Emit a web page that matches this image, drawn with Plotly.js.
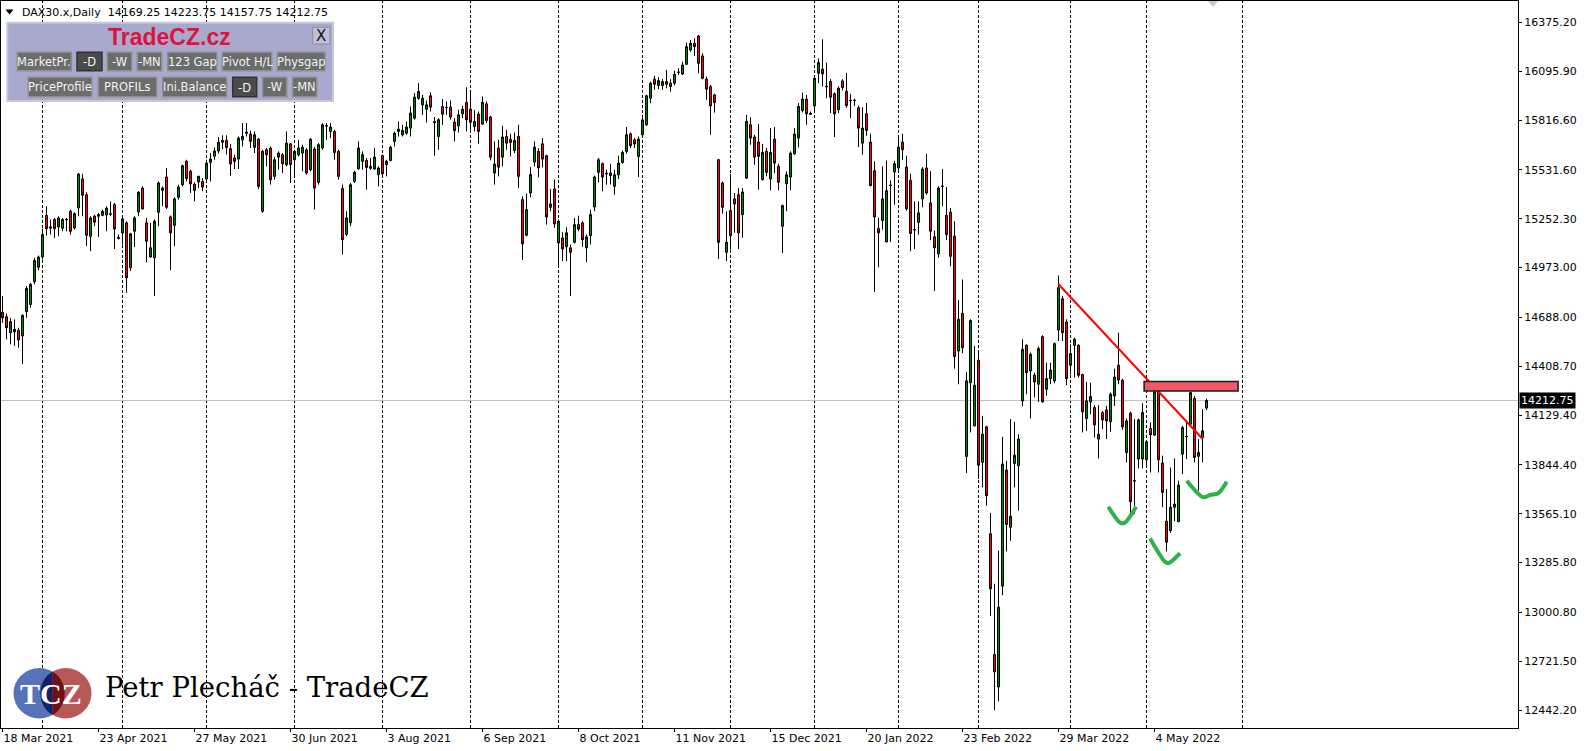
<!DOCTYPE html>
<html><head><meta charset="utf-8">
<script src="https://cdn.plot.ly/plotly-3.0.1.min.js"></script>
<style>html,body{margin:0;padding:0;background:#fff;overflow:hidden}#chart{width:1589px;height:751px}</style>
</head><body><div id="chart"></div>
<script>
const symbolName = "DAX30.x,Daily";
const openP = [14718,14692,14601,14605,14614,14582,14721,14762,14892,14975,
15035,15271,15206,15248,15206,15198,15246,15295,15200,15314,
15480,15390,15152,15267,15267,15272,15274,15281,15333,15145,
15171,15229,14972,15181,15292,15428,15229,15034,15029,15290,
15415,15491,15263,15215,15375,15447,15581,15524,15451,15463,
15466,15480,15575,15610,15640,15690,15700,15653,15600,15594,
15704,15748,15737,15661,15708,15295,15647,15657,15495,15628,
15619,15562,15681,15590,15619,15628,15647,15533,15651,15461,
15657,15785,15752,15752,15638,15425,15162,15229,15466,15539,
15581,15586,15541,15537,15505,15614,15562,15586,15695,15752,
15733,15742,15771,15828,15942,15904,15879,15956,15808,15723,
15895,15890,15891,15805,15784,15853,15917,15879,15780,15851,
15794,15910,15834,15514,15657,15605,15723,15708,15643,15723,
15362,15158,15400,15577,15638,15681,15613,15318,15423,15114,
15143,15092,15086,15118,15219,15229,15086,15156,15320,15518,
15567,15513,15499,15438,15504,15575,15638,15738,15704,15609,
15733,15790,15942,16051,16015,16015,16022,16028,16028,16092,
16081,16136,16218,16256,16298,16184,16051,16009,15961,15590,
15457,15061,15299,15367,15390,15276,15485,15790,15720,15691,
15476,15638,15480,15708,15552,15210,15453,15491,15624,15714,
15872,15937,15856,15898,16085,16108,16011,16037,15967,15876,
16041,15982,15930,15929,15887,15685,15853,15691,15527,15196,
15242,15120,15445,15520,15543,15691,15548,15472,15191,15232,
15366,15543,15343,15149,15052,15439,15272,15290,15153,14496,
14711,13893,14315,14068,14443,13859,14062,13450,12759,12574,
13151,13815,13488,13853,13840,14210,14529,14382,14357,14306,
14578,14277,14338,14325,14616,14795,14662,14414,14528,14529,
14361,14110,14205,14172,13992,14144,14159,14091,14239,14414,
14328,13915,14140,13755,13878,13878,13874,14053,14015,14296,
13855,13522,13469,13602,13520,13906,14008,14077,14224,13893,
14001,14169.25];
const highP = [14810,14711,14686,14677,14629,14705,14867,14886,15029,15042,
15196,15324,15248,15257,15267,15257,15257,15305,15290,15514,
15510,15404,15267,15276,15286,15305,15324,15352,15343,15162,
15257,15238,15172,15267,15410,15438,15257,15229,15248,15466,
15438,15543,15271,15375,15447,15562,15590,15533,15461,15499,
15485,15590,15628,15660,15720,15730,15730,15680,15619,15723,
15800,15800,15756,15752,15714,15647,15657,15666,15605,15638,
15628,15752,15685,15647,15704,15676,15657,15714,15662,15685,
15800,15800,15800,15761,15647,15448,15295,15457,15527,15695,
15638,15600,15600,15657,15552,15619,15590,15670,15752,15809,
15790,15809,15895,15971,16028,15961,15929,15975,15834,15828,
15937,15923,15929,15828,15876,15898,16005,15980,15876,15866,
15952,15923,15841,15695,15704,15784,15761,15739,15746,15790,
15381,15396,15548,15695,15657,15714,15619,15423,15476,15248,
15175,15204,15105,15257,15270,15238,15162,15305,15499,15600,
15575,15533,15567,15533,15613,15643,15777,15746,15714,15723,
15847,15961,16037,16070,16062,16051,16104,16051,16100,16113,
16151,16260,16275,16285,16304,16199,16066,16018,15967,15594,
15466,15295,15510,15400,15428,15428,15847,15834,15733,15796,
15681,15657,15771,15777,15567,15333,15523,15638,15771,15914,
15975,15961,15866,16066,16170,16279,16146,16051,15975,16009,
16051,16087,15967,15940,15900,15891,15914,15739,15581,15257,
15552,15586,15472,15584,15714,15739,15613,15510,15352,15352,
15548,15624,15524,15185,15438,15537,15434,15314,15238,14787,
14905,14376,14677,14525,14487,14125,14068,13570,13164,13354,
14005,13868,14106,14091,14020,14563,14534,14487,14372,14521,
14586,14429,14429,14544,14928,14810,14677,14534,14572,14534,
14366,14319,14315,14186,14186,14153,14182,14258,14395,14601,
14338,14110,14148,14106,14110,14197,13982,14087,14268,14315,
13897,13706,13830,13881,13754,14068,14096,14262,14239,13992,
14163,14223.75];
const lowP = [14657,14563,14534,14525,14515,14420,14686,14743,14877,14958,
15019,15156,15162,15143,15152,15181,15181,15162,15191,15267,
15267,15096,15067,15210,15149,15267,15181,15267,15080,15134,
15105,14829,14953,15090,15267,15305,15004,15029,14810,15210,
15324,15309,14958,15096,15362,15438,15466,15400,15352,15428,
15410,15466,15466,15590,15625,15650,15620,15499,15537,15537,
15666,15723,15657,15628,15423,15286,15552,15448,15476,15533,
15514,15552,15457,15485,15609,15524,15505,15524,15305,15448,
15647,15704,15714,15590,15476,15048,15153,15210,15457,15533,
15533,15419,15533,15533,15438,15495,15495,15581,15666,15723,
15723,15733,15723,15819,15933,15847,15803,15866,15613,15647,
15790,15847,15819,15695,15746,15828,15752,15761,15752,15682,
15790,15800,15586,15448,15495,15552,15647,15609,15628,15428,
15016,15152,15375,15552,15489,15546,15219,15295,15200,14977,
15010,15010,14810,15111,15181,15092,15004,15105,15295,15461,
15409,15447,15448,15390,15480,15567,15624,15657,15657,15491,
15723,15784,15914,15990,15994,15990,15999,15980,16015,16075,
16075,16132,16208,16184,16085,16051,15933,15733,15860,15023,
15282,15010,15076,15172,15080,15143,15480,15676,15562,15419,
15472,15495,15415,15514,15415,15057,15295,15415,15619,15660,
15860,15790,15847,15866,16028,16009,15942,15857,15720,15857,
15986,15887,15828,15898,15663,15619,15727,15438,14833,14975,
15190,15118,15120,15333,15524,15590,15299,15067,15080,15162,
15318,15390,15130,14839,15029,15324,15130,14981,14395,14306,
14483,13798,14030,14064,13764,13716,13611,12980,12441,12492,
13098,13349,13411,13716,13583,14180,14249,14110,14230,14205,
14201,14240,14306,14311,14553,14553,14300,14363,14344,14344,
14030,14039,14134,14001,13881,14049,13992,14035,14182,14306,
14045,13858,13564,13564,13824,13824,13830,13801,14011,13801,
13602,13349,13455,13522,13516,13792,13878,14073,13859,13697,
13859,14157.75];
const closeP = [14686,14629,14664,14620,14559,14700,14854,14877,15014,15033,
15162,15196,15199,15196,15257,15248,15249,15181,15282,15508,
15387,15158,15257,15233,15276,15295,15314,15279,15194,15141,
15252,14915,15166,15257,15404,15309,15124,15086,15238,15457,
15428,15318,15172,15366,15434,15556,15482,15451,15415,15495,
15434,15571,15594,15640,15690,15700,15660,15566,15581,15714,
15723,15742,15695,15733,15438,15638,15619,15476,15590,15605,
15567,15685,15562,15638,15657,15662,15514,15708,15428,15676,
15790,15783,15777,15632,15495,15133,15257,15447,15518,15657,
15619,15546,15552,15605,15543,15510,15581,15662,15742,15765,
15758,15777,15857,15948,15980,15942,15904,15891,15803,15819,
15851,15888,15834,15756,15847,15879,15819,15805,15809,15752,
15919,15815,15605,15565,15548,15720,15685,15689,15700,15495,
15109,15305,15505,15662,15543,15594,15263,15337,15223,15238,
15080,15172,15061,15219,15194,15133,15149,15276,15491,15590,
15491,15510,15514,15504,15571,15632,15733,15670,15680,15708,
15818,15956,16028,16022,16043,16037,16037,16009,16079,16090,
16132,16237,16256,16237,16142,16056,15994,15898,15917,15118,
15318,15118,15156,15337,15172,15406,15809,15714,15605,15609,
15632,15518,15632,15571,15461,15328,15504,15628,15737,15895,
15937,15853,15851,16056,16146,16081,16008,15948,15853,15999,
16003,15900,15928,15930,15771,15771,15758,15442,15263,15172,
15366,15413,15443,15567,15663,15647,15310,15168,15189,15286,
15537,15400,15181,15086,15428,15437,15162,15038,14464,14677,
14515,14325,14671,14300,13843,14020,13668,13136,12660,13031,
13849,13503,13550,13900,13992,14505,14372,14477,14319,14510,
14205,14338,14387,14538,14858,14601,14338,14481,14563,14357,
14148,14210,14235,14073,14020,14102,14096,14249,14347,14330,
14062,14096,13634,13752,14102,14144,13977,14017,14262,13874,
13687,13402,13602,13621,13729,14058,14006,14258,13887,13915,
14039,14212.75];

const xTickIdx = [0,24,48,72,96,120,144,168,192,216,240,264,288];
const xTickText = ["18 Mar 2021","23 Apr 2021","27 May 2021","30 Jun 2021","3 Aug 2021","6 Sep 2021","8 Oct 2021","11 Nov 2021","15 Dec 2021","20 Jan 2022","23 Feb 2022","29 Mar 2022","4 May 2022"];
const yTickVals = [16375.20,16095.90,15816.60,15531.60,15252.30,14973.00,14688.00,14408.70,14129.40,13844.40,13565.10,13285.80,13000.80,12721.50,12442.20];
const monthStartIdx = [10,30,51,73,95,117,139,160,182,203,224,244,267,286,310];

const trendX = [263.95, 300.05];
const trendY = [14879, 13992.5];
const zoneX = [285.4, 308.9];
const zoneY = [14267, 14322];
const markAX = [276.45, 279.4, 280.6, 283.4];
const markAY = [13605, 13514, 13514, 13605];
const markBX = [286.9, 290.6, 291.45, 294.4];
const markBY = [13424, 13291, 13282, 13339];
const markCX = [296.05, 300.2, 301.9, 303.95, 306.05];
const markCY = [13754, 13659, 13672, 13682, 13748];

const btnLabels = ["MarketPr.","-D","-W","-MN","123 Gap","Pivot H/L","Physgap","PriceProfile","PROFILs","Ini.Balance","-D","-W","-MN"];
const btnX0 = [17.3,77,107.3,137.3,167.7,222.3,277.3,28.3,98.3,162.7,232.7,262.7,292.7];
const btnX1 = [71.3,102,131.7,161.7,216.7,271.7,325,91.7,156.7,226.7,256.7,286.7,316.7];
const btnRow = [0,0,0,0,0,0,0,1,1,1,1,1,1];
const btnPressed = [0,1,0,0,0,0,0,0,0,0,1,0,0];

// ---- geometry helpers (pixel -> paper) ----
const W = 1589, H = 751, ML = 1, MR = 71, MT = 1, MB = 23;
const PW = W - ML - MR, PH = H - MT - MB;
const px = x => (x - ML) / PW;
const py = y => 1 - (y - MT) / PH;
const pt = (x, y) => px(x).toFixed(5) + ',' + py(y).toFixed(5);

const N = closeP.length;
const idx = closeP.map((_, i) => i);
const last = N - 1;
const fmt = v => v.toFixed(2);

const traces = [{
  type: 'candlestick', x: idx, open: openP, high: highP, low: lowP, close: closeP,
  increasing: {line: {color: '#000000', width: 1}, fillcolor: '#008000'},
  decreasing: {line: {color: '#000000', width: 1}, fillcolor: '#FF0000'},
  whiskerwidth: 0, hoverinfo: 'skip', showlegend: false
}];
[[markAX, markAY], [markBX, markBY], [markCX, markCY]].forEach(m => {
  traces.push({type: 'scatter', mode: 'lines', x: m[0], y: m[1],
    line: {color: '#2DB24A', width: 4, shape: 'spline', smoothing: 0.8},
    hoverinfo: 'skip', showlegend: false});
});

const shapes = [];
monthStartIdx.forEach(m => shapes.push({type: 'line', xref: 'x', yref: 'paper', x0: m, x1: m, y0: 0, y1: 1,
  line: {color: '#000', width: 1, dash: '3px,2px'}, layer: 'below'}));
shapes.push({type: 'line', xref: 'paper', yref: 'y', x0: 0, x1: 1, y0: closeP[last], y1: closeP[last],
  line: {color: '#C0C0C0', width: 1}, layer: 'below'});
shapes.push({type: 'line', xref: 'x', yref: 'y', x0: trendX[0], x1: trendX[1], y0: trendY[0], y1: trendY[1],
  line: {color: '#FF0000', width: 2}});
shapes.push({type: 'rect', xref: 'x', yref: 'y', x0: zoneX[0], x1: zoneX[1], y0: zoneY[0], y1: zoneY[1],
  fillcolor: '#F05A66', line: {color: '#1a1a1a', width: 1.5}});

// chart-shift marker and header triangle
shapes.push({type: 'path', xref: 'paper', yref: 'paper', path: 'M' + pt(1208, 1) + 'L' + pt(1218, 1) + 'L' + pt(1213, 7) + 'Z',
  fillcolor: '#C8C8C8', line: {width: 0}});
shapes.push({type: 'path', xref: 'paper', yref: 'paper', path: 'M' + pt(5.5, 9.5) + 'L' + pt(13.5, 9.5) + 'L' + pt(9.5, 14.5) + 'Z',
  fillcolor: '#000', line: {width: 0}});

// panel
const rectPx = (x0, y0, x1, y1, fill, lc, lw) => ({type: 'rect', xref: 'paper', yref: 'paper',
  x0: px(x0), x1: px(x1), y0: py(y1), y1: py(y0), fillcolor: fill, line: {color: lc, width: lw}});
shapes.push(rectPx(7.3, 22.7, 333, 101, '#A9A9CE', '#C6C6E0', 2));
shapes.push(rectPx(312.7, 27.3, 330, 44, '#BFBFD6', '#8A8AA6', 1));
const annotations = [];
btnLabels.forEach((t, k) => {
  const y0 = btnRow[k] ? 77.3 : 52.3, y1 = btnRow[k] ? 96.7 : 70.7;
  shapes.push(rectPx(btnX0[k], y0, btnX1[k], y1, btnPressed[k] ? '#4B4B4B' : '#6C6C6C', btnPressed[k] ? '#333333' : '#8E8E8E', 1.5));
  annotations.push({xref: 'paper', yref: 'paper', x: px((btnX0[k] + btnX1[k]) / 2), y: py((y0 + y1) / 2 + (btnPressed[k] ? 1 : 0)),
    text: t, showarrow: false, xanchor: 'center', yanchor: 'middle',
    font: {family: 'DejaVu Sans', size: 11.5, color: '#F2F2F2'}});
});
annotations.push({xref: 'paper', yref: 'paper', x: px(169.5), y: py(37), text: '<b>TradeCZ.cz</b>', showarrow: false,
  xanchor: 'center', yanchor: 'middle', font: {family: 'Liberation Sans', size: 23, color: '#DC143C'}});
annotations.push({xref: 'paper', yref: 'paper', x: px(321.4), y: py(35.8), text: 'X', showarrow: false,
  xanchor: 'center', yanchor: 'middle', font: {family: 'DejaVu Sans', size: 15, color: '#111'}});

// logo
shapes.push({type: 'circle', xref: 'paper', yref: 'paper', x0: px(13.5), x1: px(65), y0: py(718.5), y1: py(668), fillcolor: '#5673BA', line: {width: 0}});
shapes.push({type: 'circle', xref: 'paper', yref: 'paper', x0: px(40), x1: px(91.5), y0: py(718.5), y1: py(668), fillcolor: '#B65858', line: {width: 0}});
shapes.push({type: 'path', xref: 'paper', yref: 'paper',
  path: 'M' + pt(52.5, 671.5) + 'C' + pt(44.9, 676.1) + ' ' + pt(40.3, 684.4) + ' ' + pt(40.3, 693.3) +
        'C' + pt(40.3, 702.2) + ' ' + pt(44.9, 710.5) + ' ' + pt(52.5, 715.1) + 'Z',
  fillcolor: '#10226B', line: {width: 0}});
shapes.push({type: 'path', xref: 'paper', yref: 'paper',
  path: 'M' + pt(52.5, 671.5) + 'C' + pt(60.1, 676.1) + ' ' + pt(64.7, 684.4) + ' ' + pt(64.7, 693.3) +
        'C' + pt(64.7, 702.2) + ' ' + pt(60.1, 710.5) + ' ' + pt(52.5, 715.1) + 'Z',
  fillcolor: '#6E1116', line: {width: 0}});
annotations.push({xref: 'paper', yref: 'paper', x: px(50.5), y: py(693), text: '<b>TCZ</b>', showarrow: false,
  xanchor: 'center', yanchor: 'middle', font: {family: 'Liberation Serif', size: 30, color: '#FFFFFF'}});
annotations.push({xref: 'paper', yref: 'paper', x: px(103), y: py(687), text: 'Petr Plecháč - TradeCZ', showarrow: false,
  xanchor: 'left', yanchor: 'middle', font: {family: 'DejaVu Serif', size: 27.5, color: '#000'}});

// header & price tag
annotations.push({xref: 'paper', yref: 'paper', x: px(20), y: py(12), showarrow: false, xanchor: 'left', yanchor: 'middle',
  text: symbolName + '\u00a0\u00a0' + [openP[last], highP[last], lowP[last], closeP[last]].map(fmt).join('\u00a0'),
  font: {family: 'DejaVu Sans', size: 11, color: '#000'}});
annotations.push({xref: 'paper', yref: 'y', x: px(1519), y: closeP[last], showarrow: false, xanchor: 'left', yanchor: 'middle',
  text: fmt(closeP[last]), bgcolor: '#000', borderpad: 1, font: {family: 'DejaVu Sans', size: 11, color: '#FFF'}});

const layout = {
  width: W, height: H, margin: {l: ML, r: MR, t: MT, b: MB, pad: 0},
  paper_bgcolor: '#FFFFFF', plot_bgcolor: '#FFFFFF', showlegend: false, hovermode: false,
  boxgap: 0.5, boxgroupgap: 0,
  xaxis: {range: [(ML - 2.5) / 4, (W - MR - 2.5) / 4], tickmode: 'array', tickvals: xTickIdx, ticktext: xTickText,
    ticks: 'outside', ticklen: 3, tickcolor: '#000', ticklabelposition: 'outside right',
    tickfont: {family: 'DejaVu Sans', size: 11, color: '#000'},
    showline: true, linecolor: '#000', linewidth: 1, mirror: true, showgrid: false, zeroline: false,
    rangeslider: {visible: false}, fixedrange: true},
  yaxis: {range: [12339.2, 16498.2], side: 'right', tickmode: 'array', tickvals: yTickVals, ticktext: yTickVals.map(fmt),
    ticks: 'outside', ticklen: 3, tickcolor: '#000',
    tickfont: {family: 'DejaVu Sans', size: 11, color: '#000'},
    showline: true, linecolor: '#000', linewidth: 1, mirror: true, showgrid: false, zeroline: false, fixedrange: true},
  shapes: shapes, annotations: annotations
};
Plotly.newPlot('chart', traces, layout, {displayModeBar: false, staticPlot: true});
</script></body></html>
